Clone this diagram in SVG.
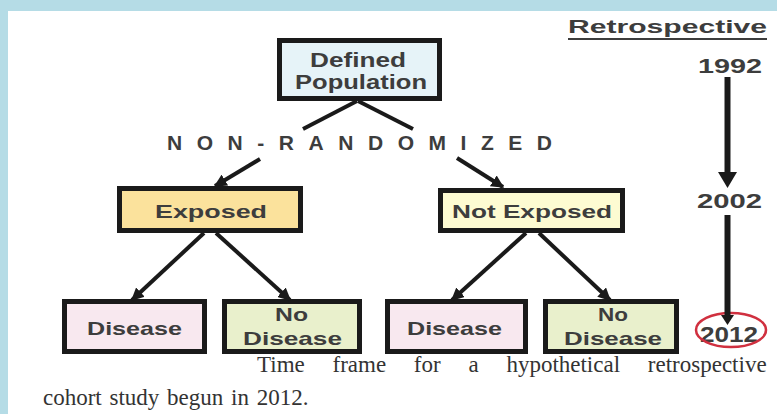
<svg xmlns="http://www.w3.org/2000/svg" width="777" height="414" viewBox="0 0 777 414">
<style>
.box{stroke:#1a1a1a;stroke-width:5}
.t{font-family:"Liberation Sans",Arial,sans-serif;font-weight:bold;fill:#3d3d3d;text-anchor:middle}
.cap{font-family:"Liberation Serif","Times New Roman",serif;fill:#333}
.ln{stroke:#1a1a1a;stroke-width:4;fill:none}
</style>
<defs>
<marker id="ah" viewBox="0 0 10 10" refX="9" refY="5" markerWidth="3.2" markerHeight="3.2" orient="auto" markerUnits="strokeWidth">
<path d="M0,0 L10,5 L0,10 z" fill="#1a1a1a"/>
</marker>
</defs>
<rect x="0" y="0" width="777" height="414" fill="#b5dce6"/>
<rect x="8" y="11" width="769" height="403" fill="#ffffff"/>

<g id="defined-population">
<rect class="box" x="279.5" y="40.5" width="160" height="58" fill="#e6f3f8"/>
<text class="t" x="358" y="67" font-size="20" textLength="96" lengthAdjust="spacingAndGlyphs">Defined</text>
<text class="t" x="361" y="89" font-size="20" textLength="132" lengthAdjust="spacingAndGlyphs">Population</text>
</g>

<g id="non-randomized">
<text class="t" x="167" y="150" font-size="21" fill="#333" style="text-anchor:start" textLength="385" lengthAdjust="spacing">NON-RANDOMIZED</text>
</g>

<g id="exposed">
<rect class="box" x="119.5" y="188.5" width="181" height="42" fill="#fbe29c"/>
<text class="t" x="211" y="218" font-size="19" textLength="112" lengthAdjust="spacingAndGlyphs">Exposed</text>
</g>

<g id="not-exposed">
<rect class="box" x="440.5" y="190.5" width="182" height="40" fill="#fdfbd2"/>
<text class="t" x="532" y="218" font-size="19" textLength="160" lengthAdjust="spacingAndGlyphs">Not Exposed</text>
</g>

<g id="disease-1">
<rect class="box" x="64.5" y="301.5" width="140" height="50" fill="#f8e8ef"/>
<text class="t" x="134.5" y="335" font-size="19" textLength="95" lengthAdjust="spacingAndGlyphs">Disease</text>
</g>

<g id="no-disease-1">
<rect class="box" x="224.5" y="301.5" width="135" height="50" fill="#e9f0cc"/>
<text class="t" x="291.5" y="321" font-size="19" textLength="33" lengthAdjust="spacingAndGlyphs">No</text>
<text class="t" x="292.5" y="345" font-size="19" textLength="99" lengthAdjust="spacingAndGlyphs">Disease</text>
</g>

<g id="disease-2">
<rect class="box" x="387.5" y="301.5" width="138" height="50" fill="#f8e8ef"/>
<text class="t" x="454.5" y="335" font-size="19" textLength="95" lengthAdjust="spacingAndGlyphs">Disease</text>
</g>

<g id="no-disease-2">
<rect class="box" x="545.5" y="301.5" width="131" height="50" fill="#e9f0cc"/>
<text class="t" x="613" y="321" font-size="19" textLength="30" lengthAdjust="spacingAndGlyphs">No</text>
<text class="t" x="613" y="345" font-size="19" textLength="98" lengthAdjust="spacingAndGlyphs">Disease</text>
</g>

<g id="timeline">
<text class="t" x="667.5" y="33" font-size="18" textLength="199" lengthAdjust="spacingAndGlyphs">Retrospective</text>
<line x1="568" y1="39" x2="767" y2="39" stroke="#3d3d3d" stroke-width="2"/>
<text class="t" x="730" y="73" font-size="21" textLength="64" lengthAdjust="spacingAndGlyphs">1992</text>
<text class="t" x="729.5" y="208" font-size="21" textLength="65" lengthAdjust="spacingAndGlyphs">2002</text>
<text class="t" x="729" y="342" font-size="22" textLength="58" lengthAdjust="spacingAndGlyphs">2012</text>
<ellipse cx="731" cy="330" rx="35" ry="17" fill="none" stroke="#d0303f" stroke-width="2.5"/>
</g>

<g id="connectors">
<line class="ln" x1="357" y1="101" x2="303" y2="129"/>
<line class="ln" x1="358" y1="101" x2="413" y2="129"/>
<line class="ln" x1="260" y1="159" x2="215" y2="186" marker-end="url(#ah)"/>
<line class="ln" x1="457" y1="158" x2="503" y2="187" marker-end="url(#ah)"/>
<line class="ln" x1="204" y1="233" x2="132" y2="300" marker-end="url(#ah)"/>
<line class="ln" x1="216" y1="233" x2="290" y2="300" marker-end="url(#ah)"/>
<line class="ln" x1="526" y1="233" x2="452" y2="300" marker-end="url(#ah)"/>
<line class="ln" x1="539" y1="233" x2="610" y2="300" marker-end="url(#ah)"/>
<line x1="727.5" y1="77" x2="727.5" y2="176" stroke="#1a1a1a" stroke-width="6"/>
<path d="M718,172 L737,172 L727.5,188 z" fill="#1a1a1a"/>
<line x1="727.5" y1="215" x2="727.5" y2="318" stroke="#1a1a1a" stroke-width="6"/>
<path d="M721,315 L734,315 L727.5,325 z" fill="#1a1a1a"/>
</g>

<g id="caption">
<text class="cap" x="257" y="372" font-size="23" word-spacing="22">Time frame for a hypothetical retrospective</text>
<text class="cap" x="43" y="405" font-size="23" word-spacing="2">cohort study begun in 2012.</text>
</g>
</svg>
